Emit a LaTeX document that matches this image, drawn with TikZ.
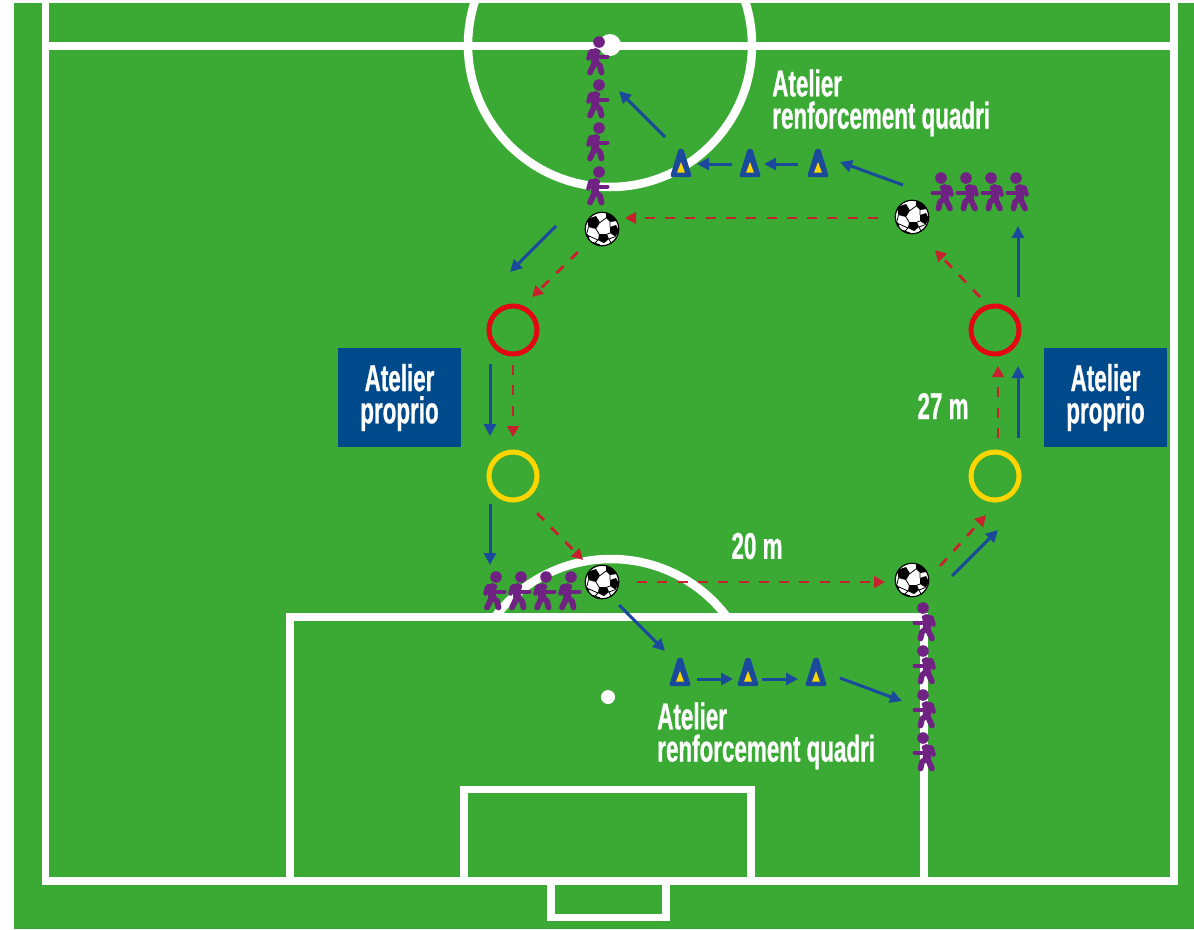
\documentclass[tikz,border=0pt]{standalone}
\usepackage{fontspec}
\usetikzlibrary{arrows.meta}
\newfontfamily\condf[FakeStretch=0.6,BoldFeatures={FakeBold=0.7}]{Liberation Sans}
\definecolor{fieldgreen}{HTML}{3AAA35}
\definecolor{arrowblue}{HTML}{1B4A9C}
\definecolor{arrowred}{HTML}{C8202D}
\definecolor{playerpurple}{HTML}{6F2282}
\definecolor{boxblue}{HTML}{004A8C}
\definecolor{ringred}{HTML}{E30613}
\definecolor{ringyellow}{HTML}{FFD500}
\newcommand{\px}[1]{#1*0.75pt}
% #1 = +1 facing right, -1 facing left
\newcommand{\playerbody}[1]{%
  \fill ({#1*0},-13) circle[radius=5.8];
  \draw[line width=\px{4.6},line join=round] ({#1*-10.5},3.5) -- ({#1*-8.5},-3.5) -- ({#1*-1},-3.5);
  \draw[line width=\px{8}] ({#1*-3.5},-3) -- ({#1*-4},6.5);
  \draw[line width=\px{4}] ({#1*1},1.5) -- ({#1*8.5},1.5);
  \draw[line width=\px{5.8},line join=round] ({#1*-4},7) -- ({#1*-9},17.5);
  \draw[line width=\px{5.8},line join=round] ({#1*-4},7) -- ({#1*1},11) -- ({#1*2.5},17.5);
}
\tikzset{
  fieldline/.style={draw=white,line width=\px{7.5}},
  circleline/.style={draw=white,line width=\px{8.5}},
  blueflow/.style={draw=arrowblue,line width=\px{3},-{Triangle[length=\px{12},width=\px{12}]}},
  redflow/.style={draw=arrowred,line width=\px{2.8},dash pattern=on \px{10} off \px{10.3},-{Triangle[length=\px{11},width=\px{11.5}]}},
  ring/.style={circle,draw=#1,line width=\px{5},minimum size=\px{48},inner sep=0pt},
  soccer/.style={circle,draw=black,line width=\px{1.2},fill=white,minimum size=\px{33.5},inner sep=0pt,
    path picture={\begin{scope}[shift={(path picture bounding box.center)},line width=\px{0.8}]
      \fill[black] (-15,-10) -- (-6,-13) -- (-2,-6.5) -- (-6,0) -- (-13.5,-2) -- cycle;
      \fill[black] (4,-17) -- (12,-14) -- (14.5,-8) -- (8,-7) -- (4,-11) -- cycle;
      \fill[black] (8,-2) -- (14,-4) -- (17,2) -- (13.5,7.5) -- (8,4) -- cycle;
      \fill[black] (-3,5) -- (5,5) -- (7,10) -- (2,14) -- (-4,11) -- cycle;
      \fill[black] (-17,3) -- (-13,7) -- (-13,13) -- (-17,10) -- cycle;
      \fill[black] (13,11) -- (17,12) -- (10,17) -- (7,15.5) -- cycle;
      \fill[black] (-9,13) -- (-2,15.5) -- (-2,17) -- (-9,17) -- cycle;
      \draw[black] (4,-11) -- (-2,-6.5) (8,-7) -- (8,-2) (5,5) -- (8,4) (-3,5) -- (-6,0)
        (-13.5,-2) -- (-15,4) (-4,11) -- (-13,7) (-4,11) -- (-7,14) (7,10) -- (13.5,7.5) (7,10) -- (9,14);
    \end{scope}}},
  cone/.style={rectangle,minimum width=\px{26},minimum height=\px{34},inner sep=0pt,
    path picture={\begin{scope}[shift={(path picture bounding box.center)}]
      \filldraw[fill=arrowblue,draw=arrowblue,line width=\px{3.6},line join=round] (-1,-12.3) -- (1,-12.3) -- (8.6,12.3) -- (-8.6,12.3) -- cycle;
      \fill[ringyellow] (0,-1) -- (3.9,9.5) -- (-3.9,9.5) -- cycle;
    \end{scope}}},
  runnerR/.style={rectangle,minimum width=\px{30},minimum height=\px{44},inner sep=0pt,
    path picture={\begin{scope}[shift={(path picture bounding box.center)},fill=playerpurple,draw=playerpurple,line cap=round]\playerbody{1}\end{scope}}},
  runnerL/.style={rectangle,minimum width=\px{30},minimum height=\px{44},inner sep=0pt,
    path picture={\begin{scope}[shift={(path picture bounding box.center)},fill=playerpurple,draw=playerpurple,line cap=round]\playerbody{-1}\end{scope}}},
  labelwhite/.style={text=white,align=left,inner sep=0pt,font=\condf\bfseries\fontsize{28}{24.2}\selectfont},
  atelierbox/.style={fill=boxblue,text=white,align=center,inner sep=0pt,minimum width=\px{123},minimum height=\px{99},font=\condf\bfseries\fontsize{28}{24.2}\selectfont},
}
\begin{document}
\begin{tikzpicture}[x=0.75pt,y=-0.75pt]
\useasboundingbox (0,0) rectangle (1194,929);
\fill[fieldgreen] (14,3) rectangle (1194,929);
\begin{scope}
  \clip (14,3) rectangle (1194,929);
  \draw[fieldline] (45.5,0) -- (45.5,881) -- (1174,881) -- (1174,0);
  \draw[fieldline] (45.5,46) -- (1174,46);
  \draw[fieldline] (551,881) -- (551,917.5) -- (666,917.5) -- (666,881);
  \draw[fieldline] (290,881) -- (290,617) -- (924,617) -- (924,881);
  \draw[fieldline] (464,881) -- (464,789.5) -- (751,789.5) -- (751,881);
  \draw[circleline] (610,45) circle[radius=142];
  \fill[white] (610,45) circle[radius=11];
  \fill[white] (608,697) circle[radius=7];
  \begin{scope}
    \clip (400,500) rectangle (800,615);
    \draw[circleline] (611,704) circle[radius=145];
  \end{scope}
\end{scope}

\node[runnerR] (p1) at (599,55) {};
\node[runnerR] (p2) at (599,98) {};
\node[runnerR] (p3) at (599,141) {};
\node[runnerR] (p4) at (599,185) {};
\node[runnerL] (q1) at (941,191) {};
\node[runnerL] (q2) at (966,191) {};
\node[runnerL] (q3) at (991,191) {};
\node[runnerL] (q4) at (1016,191) {};
\node[runnerR] (s1) at (496,590) {};
\node[runnerR] (s2) at (521,590) {};
\node[runnerR] (s3) at (546,590) {};
\node[runnerR] (s4) at (571,590) {};
\node[runnerL] (t1) at (923,621) {};
\node[runnerL] (t2) at (923,664) {};
\node[runnerL] (t3) at (923,708) {};
\node[runnerL] (t4) at (923,751) {};

\node[soccer] (b1) at (602,229) {};
\node[soccer] (b2) at (912,217) {};
\node[soccer] (b3) at (602,582) {};
\node[soccer] (b4) at (912,580) {};

\node[ring=ringred] (r1) at (513,330) {};
\node[ring=ringred] (r2) at (995,330) {};
\node[ring=ringyellow] (y1) at (513,476) {};
\node[ring=ringyellow] (y2) at (995,476) {};

\node[cone] (c1) at (681,163) {};
\node[cone] (c2) at (750,163) {};
\node[cone] (c3) at (818,163) {};
\node[cone] (c4) at (680,672) {};
\node[cone] (c5) at (748,672) {};
\node[cone] (c6) at (816,672) {};

\node[atelierbox] (box1) at (399.5,397.5) {Atelier\\proprio};
\node[atelierbox] (box2) at (1105.5,397.5) {Atelier\\proprio};
\node[labelwhite,anchor=north west] (lab1) at (772,69) {Atelier\\renforcement quadri};
\node[labelwhite,anchor=north west] (lab2) at (657,702) {Atelier\\renforcement quadri};
\node[labelwhite] (d27) at (943,406) {27 m};
\node[labelwhite] (d20) at (757,546) {20 m};

% blue run paths
\draw[blueflow] ([shift={(-16,-26)}]c1.center) -- ([shift={(20,-7)}]p2.center);
\draw[blueflow] ([shift={(-18,1)}]c2.center) -- ([shift={(16,1)}]c1.center);
\draw[blueflow] ([shift={(-20,1)}]c3.center) -- ([shift={(14,1)}]c2.center);
\draw[blueflow] ([shift={(-9,-32)}]b2.center) -- ([shift={(22,-1)}]c3.center);
\draw[blueflow] ([shift={(-46,-3)}]b1.center) -- ([shift={(-3,-58)}]r1.center);
\draw[blueflow] ([shift={(-23,34)}]r1.center) -- ([shift={(-23,-40)}]y1.center);
\draw[blueflow] ([shift={(-23,28)}]y1.center) -- ([shift={(-6,-25)}]s1.center);
\draw[blueflow] ([shift={(23,-38)}]y2.center) -- ([shift={(23,36)}]r2.center);
\draw[blueflow] ([shift={(23,-33)}]r2.center) -- ([shift={(2,35)}]q4.center);
\draw[blueflow] ([shift={(40,-4)}]b4.center) -- ([shift={(3,54)}]y2.center);
\draw[blueflow] ([shift={(17,23)}]b3.center) -- ([shift={(-15,-21)}]c4.center);
\draw[blueflow] ([shift={(17,7)}]c4.center) -- ([shift={(-15,7)}]c5.center);
\draw[blueflow] ([shift={(14,7)}]c5.center) -- ([shift={(-18,7)}]c6.center);
\draw[blueflow] ([shift={(24,6)}]c6.center) -- ([shift={(-21,-7)}]t3.center);
% red ball paths
\draw[redflow] ([shift={(-34,1)}]b2.center) -- ([shift={(23,-11)}]b1.center);
\draw[redflow] ([shift={(-24,23)}]b1.center) -- ([shift={(19,-33)}]r1.center);
\draw[redflow] ([shift={(0,35)}]r1.center) -- ([shift={(0,-39)}]y1.center);
\draw[redflow] ([shift={(24,37)}]y1.center) -- ([shift={(-19,-22)}]b3.center);
\draw[redflow] ([shift={(35,0)}]b3.center) -- ([shift={(-27,2)}]b4.center);
\draw[redflow] ([shift={(28,-14)}]b4.center) -- ([shift={(-9,39)}]y2.center);
\draw[redflow] ([shift={(3,-38)}]y2.center) -- ([shift={(3,36)}]r2.center);
\draw[redflow] ([shift={(-15,-33)}]r2.center) -- ([shift={(23,33)}]b2.center);
\end{tikzpicture}
\end{document}
